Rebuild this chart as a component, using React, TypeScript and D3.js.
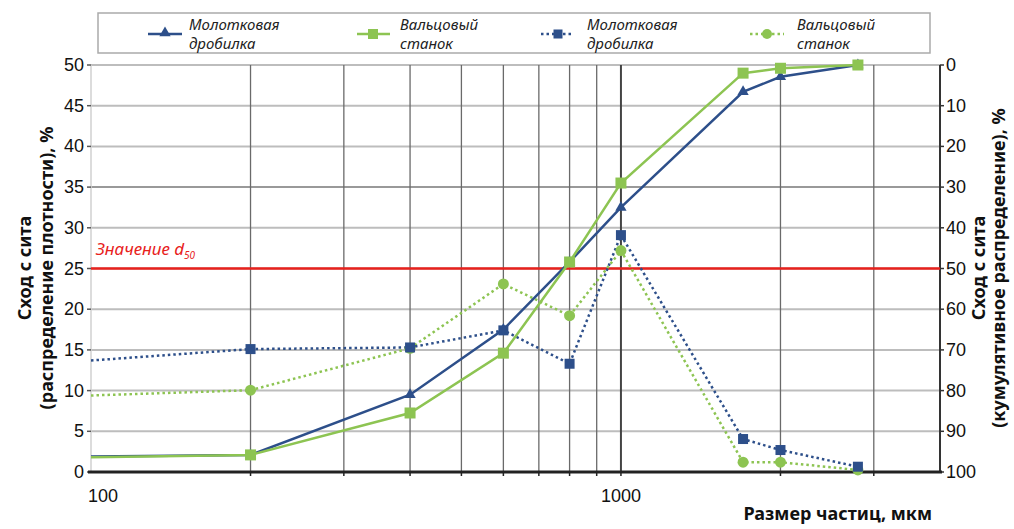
import React from "react";
import * as d3 from "d3";

const sizes = [100, 200, 400, 600, 800, 1000, 1700, 2000, 2800];
// cumulative (right axis, 0 top -> 100 bottom)
const hammerCum = [96.2, 95.8, 81, 65, 48.4, 35, 6.6, 2.9, 0];
const rollerCum = [96.4, 95.8, 85.5, 70.8, 48.4, 29, 2, 0.8, 0];
// density (left axis)
const hammerDen = [13.7, 15.1, 15.3, 17.4, 13.3, 29.1, 4.05, 2.7, 0.65];
const rollerDen = [9.4, 10.05, 15.2, 23.1, 19.2, 27.2, 1.2, 1.2, 0.25];

const leftTicks = [0, 5, 10, 15, 20, 25, 30, 35, 40, 45, 50];
const rightTicks = [0, 10, 20, 30, 40, 50, 60, 70, 80, 90, 100];
const xGrid = [200, 300, 400, 500, 600, 700, 800, 900, 1000, 2000, 3000];
const xLabels = [100, 1000];
const d50 = 25;

const BLUE = "#2d4f8a";
const GREEN = "#8dc452";
const RED = "#e8211c";

export default function App() {
  const L = 91, R = 940, T = 65, B = 472;
  const x = d3.scaleLog().domain([100, 4000]).range([L, R]);
  const yL = d3.scaleLinear().domain([0, 50]).range([B, T]);
  const yR = d3.scaleLinear().domain([0, 100]).range([T, B]);
  const tickFont = "'Liberation Sans Narrow', 'Arial Narrow', 'Liberation Sans', sans-serif";
  const titleFont = "'Noto Sans', 'Open Sans', sans-serif";
  const legFont = "'Noto Sans', 'Open Sans', sans-serif";

  const lineCum = d3.line<number>().x((_, i) => x(sizes[i])).y((v) => yR(v));
  const lineDen = d3.line<number>().x((_, i) => x(sizes[i])).y((v) => yL(v));

  const tri = d3.symbol().type(d3.symbolTriangle).size(55)();
  const sq = (cx: number, cy: number, s: number, color: string, key: string) => (
    <rect key={key} x={cx - s / 2} y={cy - s / 2} width={s} height={s} fill={color} />
  );

  const idx = sizes.map((_, i) => i).filter((i) => sizes[i] > 100);

  return (
    <svg width={1014} height={529} style={{ position: "absolute", left: 0, top: 0, background: "#fff" }}>
      <rect width={1014} height={529} fill="#fff" />
      {/* horizontal gridlines */}
      {leftTicks.filter((t) => t > 0).map((t) => (
        <line key={"h" + t} x1={L} x2={R} y1={yL(t)} y2={yL(t)} stroke={t === 35 ? "#999" : "#bdbdbd"} strokeWidth={2} />
      ))}
      {/* vertical gridlines */}
      {xGrid.map((g) => (
        <line key={"v" + g} x1={x(g)} x2={x(g)} y1={T} y2={B} stroke={g === 1000 ? "#444" : "#6a6a6a"} strokeWidth={g === 1000 ? 2 : 1.3} />
      ))}
      {/* left axis */}
      <line x1={L} x2={L} y1={T} y2={B} stroke="#d0d0d0" strokeWidth={1.5} />
      {leftTicks.map((t) => (
        <g key={"lt" + t}>
          <line x1={L - 4} x2={L} y1={yL(t)} y2={yL(t)} stroke="#555" strokeWidth={1.5} />
          <text x={84} y={yL(t) + 6} textAnchor="end" fontFamily={tickFont} fontSize={18} fill="#111">{t}</text>
        </g>
      ))}
      {/* right axis */}
      <line x1={R} x2={R} y1={T} y2={B} stroke="#333" strokeWidth={2} />
      {rightTicks.map((t) => (
        <g key={"rt" + t}>
          <line x1={R} x2={R + 4} y1={yR(t)} y2={yR(t)} stroke="#333" strokeWidth={1.5} />
          <text x={R + 6} y={yR(t) + 6} fontFamily={tickFont} fontSize={18} fill="#111">{t}</text>
        </g>
      ))}
      {/* bottom axis */}
      <line x1={L - 3} x2={R + 2} y1={B} y2={B} stroke="#222" strokeWidth={3} />
      {xGrid.map((g) => (
        <line key={"bt" + g} x1={x(g)} x2={x(g)} y1={B} y2={B + 4} stroke="#222" strokeWidth={1.5} />
      ))}
      {xLabels.map((v) => (
        <text key={"xl" + v} x={x(v) + (v === 100 ? 12 : 0)} y={502} textAnchor="middle" fontFamily={tickFont} fontSize={18} fill="#111">{v}</text>
      ))}

      {/* d50 line */}
      <line x1={L} x2={R} y1={yL(d50)} y2={yL(d50)} stroke={RED} strokeWidth={2.5} />
      <text x={96} y={255} fill={RED} fontFamily={titleFont} fontStyle="italic" fontSize={17}>
        Значение d<tspan fontSize={10} dy={4}>50</tspan>
      </text>

      {/* dotted series */}
      <path d={lineDen(rollerDen) || ""} fill="none" stroke={GREEN} strokeWidth={2.5} strokeDasharray="2.5 3" />
      <path d={lineDen(hammerDen) || ""} fill="none" stroke={BLUE} strokeWidth={2.5} strokeDasharray="2.5 3" />
      {idx.map((i) => (
        <circle key={"rc" + i} cx={x(sizes[i])} cy={yL(rollerDen[i])} r={5.5} fill={GREEN} />
      ))}
      {idx.map((i) => sq(x(sizes[i]), yL(hammerDen[i]), 10, BLUE, "hs" + i))}

      {/* solid series */}
      <path d={lineCum(hammerCum) || ""} fill="none" stroke={BLUE} strokeWidth={2.5} />
      <path d={lineCum(rollerCum) || ""} fill="none" stroke={GREEN} strokeWidth={2.5} />
      {idx.map((i) => (
        <path key={"ht" + i} d={tri || ""} transform={`translate(${x(sizes[i])},${yR(hammerCum[i])})`} fill={BLUE} />
      ))}
      {idx.map((i) => sq(x(sizes[i]), yR(rollerCum[i]), 11, GREEN, "rs" + i))}

      {/* legend */}
      <rect x={98} y={13} width={832} height={40} fill="#fff" stroke="#aaa" strokeWidth={1.5} />
      <g fontFamily={legFont} fontStyle="italic" fontSize={15} fill="#222">
        <line x1={148} x2={182} y1={34} y2={34} stroke={BLUE} strokeWidth={2.5} />
        <path d={tri || ""} transform="translate(165,33)" fill={BLUE} />
        <text x={189} y={30}>Молотковая</text>
        <text x={189} y={49}>дробилка</text>

        <line x1={357} x2={390} y1={34} y2={34} stroke={GREEN} strokeWidth={2.5} />
        {sq(373, 34, 10, GREEN, "lg2")}
        <text x={400} y={30}>Вальцовый</text>
        <text x={400} y={49}>станок</text>

        <line x1={541} x2={574} y1={34} y2={34} stroke={BLUE} strokeWidth={2.5} strokeDasharray="2.5 3" />
        {sq(558, 34, 9, BLUE, "lg3")}
        <text x={587} y={30}>Молотковая</text>
        <text x={587} y={49}>дробилка</text>

        <line x1={750} x2={784} y1={34} y2={34} stroke={GREEN} strokeWidth={2.5} strokeDasharray="2.5 3" />
        <circle cx={767} cy={34} r={5} fill={GREEN} />
        <text x={797} y={30}>Вальцовый</text>
        <text x={797} y={49}>станок</text>
      </g>

      {/* axis titles */}
      <g fontFamily={titleFont} fontWeight="bold" fontSize={18} fill="#111" textAnchor="middle">
        <text transform="translate(31,268) rotate(-90)">Сход с сита</text>
        <text transform="translate(53,268) rotate(-90)">(распределение плотности), %</text>
        <text transform="translate(985,268) rotate(-90)">Сход с сита</text>
        <text transform="translate(1005,268) rotate(-90)">(кумулятивное распределение), %</text>
        <text x={932} y={520} textAnchor="end">Размер частиц, мкм</text>
      </g>
    </svg>
  );
}
